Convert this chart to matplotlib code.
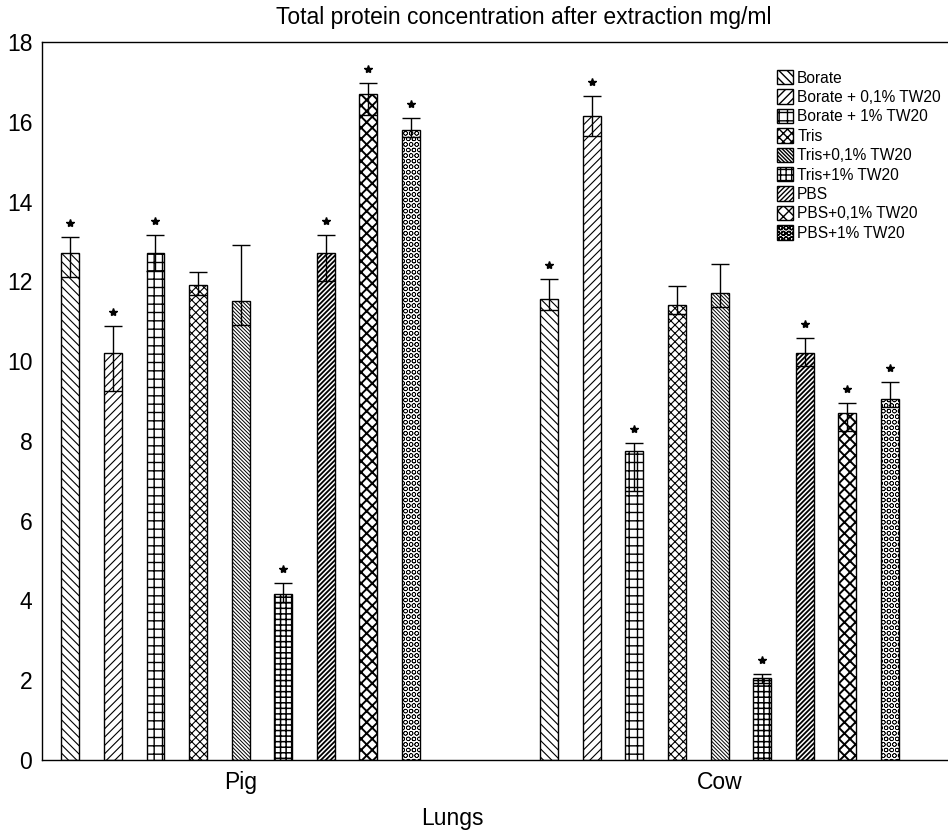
import matplotlib
matplotlib.use("Agg")
import matplotlib.pyplot as plt
import numpy as np

plt.rcParams['font.family'] = ['Liberation Sans', 'DejaVu Sans']

groups = ['Pig', 'Cow']
series = ['Borate', 'Borate + 0,1% TW20', 'Borate + 1% TW20', 'Tris',
          'Tris+0,1% TW20', 'Tris+1% TW20', 'PBS', 'PBS+0,1% TW20', 'PBS+1% TW20']
pig = [12.7, 10.2, 12.7, 11.9, 11.5, 4.15, 12.7, 16.7, 15.8]
cow = [11.55, 16.15, 7.75, 11.4, 11.7, 2.05, 10.2, 8.7, 9.05]
pig_err_up = [0.42, 0.68, 0.46, 0.33, 1.4, 0.3, 0.47, 0.28, 0.29]
pig_err_lo = [0.6, 0.95, 0.45, 0.25, 0.6, 0.2, 0.7, 0.52, 0.19]
cow_err_up = [0.5, 0.5, 0.2, 0.48, 0.74, 0.11, 0.38, 0.25, 0.42]
cow_err_lo = [0.28, 0.51, 1.0, 0.21, 0.34, 0.13, 0.33, 0.44, 0.2]
significant = [1, 1, 1, 0, 0, 1, 1, 1, 1]

hatches = ['\\\\\\\\', '////', '++', 'xxxx', '\\' * 9, '+++', '/' * 7, 'xxx', 'OOO']
hatch_lw = [0.8, 0.8, 1.0, 0.8, 0.7, 1.1, 1.3, 1.4, 0.45]

values = np.array([pig, cow])
err_up = np.array([pig_err_up, cow_err_up])
err_lo = np.array([pig_err_lo, cow_err_lo])

fig = plt.figure(figsize=(9.48, 8.34), dpi=100)
ax = fig.add_axes([0.0443, 0.0887, 0.955, 0.8609])

group_pos = np.array([0.0, 11.25])
step = 1.0
width = 0.42
nser = len(series)

handles = []
for i in range(nser):
    xs = group_pos + (i - (nser - 1) / 2) * step
    with plt.rc_context({'hatch.linewidth': hatch_lw[i]}):
        bars = ax.bar(xs, values[:, i], width=width, color='white',
                      edgecolor='black', linewidth=1.0, hatch=hatches[i],
                      label=series[i], zorder=2)
    for p in bars:
        try:
            p.set_hatch_linewidth(hatch_lw[i])
        except Exception:
            pass
    handles.append(bars)
    ax.errorbar(xs, values[:, i], yerr=[err_lo[:, i], err_up[:, i]], fmt='none',
                ecolor='black', elinewidth=1.0, capsize=6.3, capthick=1.0, zorder=3)
    if significant[i]:
        ax.plot(xs, values[:, i] + err_up[:, i] + 0.35, linestyle='none',
                marker='*', markersize=6, color='black', zorder=4)

ax.set_xlim(-4.665, 16.6)
ax.set_ylim(0, 18)
ax.set_yticks(np.arange(0, 19, 2))
ax.set_xticks(group_pos)
ax.set_xticklabels(groups)
ax.tick_params(axis='both', length=0, labelsize=16.5)
ax.tick_params(axis='y', pad=7)
ax.tick_params(axis='x', pad=8)
ax.spines['right'].set_visible(False)
for s in ['left', 'top', 'bottom']:
    ax.spines[s].set_linewidth(1.0)

ax.set_xlabel('Lungs', fontsize=16.5)
ax.xaxis.set_label_coords(0.453, -0.066)
fig.text(0.552, 0.979, 'Total protein concentration after extraction mg/ml',
         ha='center', va='center', fontsize=16.5)

leg = fig.legend(handles=handles, labels=series, loc='upper left',
                 bbox_to_anchor=(777 / 948, 1 - 70 / 834), frameon=False,
                 fontsize=11.2, handlelength=1.0, handleheight=1.05,
                 handletextpad=0.3, labelspacing=0.25, borderpad=0,
                 borderaxespad=0)

fig.savefig('out.png', dpi=100)
